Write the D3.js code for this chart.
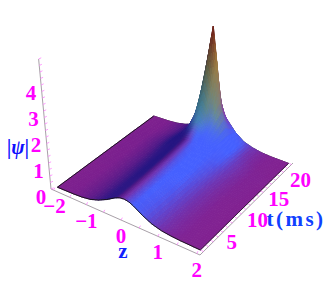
<!DOCTYPE html>
<html><head><meta charset="utf-8">
<script src="https://cdn.jsdelivr.net/npm/d3@7"></script>
<style>html,body{margin:0;padding:0;background:#fff;overflow:hidden}svg{display:block}</style>
</head><body><svg id="c" width="332" height="288"></svg>
<script>
const zValues=[-2,-1.5,-1.25,-1,-.75,-.5,-.25,-.125,0,.125,.25,.5,.75,1,1.25,1.5,2];
const tValues=[0,1,2,3,4,5,6,7,8,9,10,11,12,13,14,15,16,17,18,19,20];
const psi=[
[.003,.02,.04,.09,.20,.36,.56,.63,.65,.62,.54,.33,.17,.08,.04,.02,.003],
[.003,.020,.046,.099,.198,.363,.561,.634,.66,.634,.561,.363,.198,.099,.046,.020,.003],
[.003,.020,.047,.101,.201,.369,.570,.643,.67,.643,.570,.369,.201,.101,.047,.020,.003],
[.003,.020,.048,.102,.204,.374,.578,.653,.68,.653,.578,.374,.204,.102,.048,.020,.003],
[.003,.021,.048,.104,.207,.380,.587,.662,.69,.662,.587,.380,.207,.104,.048,.021,.003],
[.004,.021,.049,.105,.210,.385,.595,.672,.70,.672,.595,.385,.210,.105,.049,.021,.004],
[.004,.022,.050,.108,.216,.396,.612,.691,.72,.691,.612,.396,.216,.108,.050,.022,.004],
[.004,.022,.052,.111,.222,.407,.629,.710,.74,.710,.629,.407,.222,.111,.052,.022,.004],
[.004,.023,.053,.114,.228,.418,.646,.730,.76,.730,.646,.418,.228,.114,.053,.023,.004],
[.004,.023,.055,.117,.234,.429,.663,.749,.78,.749,.663,.429,.234,.117,.055,.023,.004],
[.004,.024,.057,.122,.243,.446,.689,.778,.81,.778,.689,.446,.243,.122,.057,.024,.004],
[.004,.025,.059,.126,.252,.462,.714,.806,.84,.806,.714,.462,.252,.126,.059,.025,.004],
[.004,.026,.062,.132,.264,.484,.748,.845,.88,.845,.748,.484,.264,.132,.062,.026,.004],
[.005,.028,.065,.140,.279,.512,.79,.893,.93,.893,.79,.512,.279,.140,.065,.028,.005],
[.005,.03,.07,.15,.30,.56,.93,1.09,1.15,1.09,.93,.56,.30,.15,.07,.03,.005],
[.005,.03,.07,.15,.30,.58,1.08,1.33,1.45,1.33,1.08,.58,.30,.15,.07,.03,.005],
[.004,.025,.06,.14,.29,.60,1.25,1.78,2.1,1.78,1.25,.60,.29,.14,.06,.025,.004],
[.003,.02,.05,.12,.26,.62,1.55,2.6,3.4,2.6,1.55,.62,.26,.12,.05,.02,.003],
[.003,.02,.05,.11,.24,.62,1.8,3.5,4.9,3.5,1.8,.62,.24,.11,.05,.02,.003],
[.003,.02,.05,.11,.24,.56,1.25,2.0,2.6,2.0,1.25,.56,.24,.11,.05,.02,.003],
[.003,.02,.05,.12,.24,.5,.9,1.1,1.2,1.1,.9,.5,.24,.12,.05,.02,.003]];
const zTickLabels=[-2,-1,0,1,2];
const tTickLabels=[5,10,15,20];
const hTickLabels=[0,1,2,3,4];

const zS=d3.scaleLinear([-2.08,2.08],[0,1]);
const tS=d3.scaleLinear([-.7,20.4],[0,1]);
const hS=d3.scaleLinear([0,5],[0,130]);
const P=[[51,189],[200,255],[293,163],[153,114]];
const dx1=P[1][0]-P[2][0],dx2=P[3][0]-P[2][0],sx=P[0][0]-P[1][0]+P[2][0]-P[3][0];
const dy1=P[1][1]-P[2][1],dy2=P[3][1]-P[2][1],sy=P[0][1]-P[1][1]+P[2][1]-P[3][1];
const den=dx1*dy2-dx2*dy1,G=(sx*dy2-dx2*sy)/den,H=(dx1*sy-sx*dy1)/den;
const A=P[1][0]-P[0][0]+G*P[1][0],B=P[3][0]-P[0][0]+H*P[3][0],C=P[0][0];
const D=P[1][1]-P[0][1]+G*P[1][1],E=P[3][1]-P[0][1]+H*P[3][1],F=P[0][1];
function proj(z,t,h){
  const u=zS(z),v=tS(t),w=G*u+H*v+1;
  let x=(A*u+B*v+C)/w,y=(D*u+E*v+F)/w;
  const px=hS(h)/w;
  return [x+px*(x-170)*.0008,y-px];
}
const svg=d3.select('#c');
const purple=d3.rgb('#82208f'),navy=d3.rgb('#261682'),blue=d3.rgb('#4560ff');
const spikeCol=d3.scaleLinear([1,1.5,2.7,3.6,4.3,4.9],['#4a88f0','#3f8aa8','#48686c','#66562c','#742818','#701414']).clamp(true).interpolate(d3.interpolateRgb);
const cl=d3.scaleLinear([0,1],[0,1]).clamp(true);
function vertexColor(j,i){
  const h=psi[j][i];
  const i0=Math.max(i-1,0),i1=Math.min(i+1,zValues.length-1);
  const j0=Math.max(j-1,0),j1=Math.min(j+1,tValues.length-1);
  const hz=(psi[j][i1]-psi[j][i0])/(zValues[i1]-zValues[i0]);
  const ht=(psi[j1][i]-psi[j0][i])/(tValues[j1]-tValues[j0]);
  let c=d3.interpolateRgb(purple,navy)(cl(hz*1.25));
  c=d3.interpolateRgb(c,blue)(Math.pow(cl(-hz*.95+.5*h),1.25));
  const s=cl((h-1)/.5);
  if(s>0){
    let k=d3.rgb(spikeCol(h));
    k=d3.interpolateRgb(k,'#102040')(cl(hz/12)*.5);
    k=d3.interpolateRgb(k,'#e0a040')(cl(-hz/10)*.5);
    c=d3.interpolateRgb(c,k)(s);
  }
  if(ht<-.15) c=d3.interpolateRgb(c,'#a02090')(cl(-ht/.6)*.85*(1-cl((h-1.5)/1)));
  return d3.rgb(c);
}
const cols=psi.map((r,j)=>r.map((_,i)=>vertexColor(j,i)));
const line=d3.line();
svg.append('path').attr('d',line(zValues.map((z,i)=>proj(z,20,psi[20][i])))).attr('fill','none').attr('stroke','#111').attr('stroke-width',.9);
const N=3,g=svg.append('g');
const mix=(a,b,f)=>a+(b-a)*f;
for(let j=tValues.length-2;j>=0;j--){
  for(let i=0;i<zValues.length-1;i++){
    const sub=(i>=4&&i<=12&&j>=9)?4:N;
    const at=(a,b)=>{
      const z=mix(zValues[i],zValues[i+1],a),t=mix(tValues[j],tValues[j+1],b);
      const h=mix(mix(psi[j][i],psi[j][i+1],a),mix(psi[j+1][i],psi[j+1][i+1],a),b);
      return proj(z,t,h);
    };
    for(let q=sub-1;q>=0;q--)for(let p=0;p<sub;p++){
      const a=(p+.5)/sub,b=(q+.5)/sub;
      const c0=cols[j][i],c1=cols[j][i+1],c2=cols[j+1][i],c3=cols[j+1][i+1];
      const f=k=>mix(mix(c0[k],c1[k],a),mix(c2[k],c3[k],a),b);
      const col=`rgb(${Math.round(f('r'))},${Math.round(f('g'))},${Math.round(f('b'))})`;
      const pts=[at(p/sub,q/sub),at((p+1)/sub,q/sub),at((p+1)/sub,(q+1)/sub),at(p/sub,(q+1)/sub)];
      g.append('path').attr('d',line(pts)+'Z').attr('fill',col).attr('stroke',col).attr('stroke-width',.9);
    }
  }
}
const edge=(pts,w)=>svg.append('path').attr('d',line(pts)).attr('fill','none').attr('stroke','#111').attr('stroke-width',w);
edge(zValues.map((z,i)=>proj(z,0,psi[0][i])),.9);
edge(tValues.map((t,j)=>proj(-2,t,psi[j][0])),.9);
edge(tValues.map((t,j)=>proj(2,t,psi[j][16])),.7);

const axisCol='#a8a0a8',pink='#ff00ff';
const ax=svg.append('g');
const zBase=-2.08,tBase=-.7,tEnd=20.4,zEnd=2.08;
const drawLine=(a,b,col,w)=>ax.append('line').attr('x1',a[0]).attr('y1',a[1]).attr('x2',b[0]).attr('y2',b[1]).attr('stroke',col).attr('stroke-width',w);
drawLine(proj(zBase,tBase,0),proj(zEnd,tBase,0),axisCol,1);
drawLine(proj(zEnd,tBase,0),proj(zEnd,tEnd,0),axisCol,1);
drawLine(proj(zBase,tBase,0),proj(zBase,tBase,5),axisCol,1);
d3.range(-2,2.01,.5).forEach(z=>{const a=proj(z,tBase,0);drawLine(a,[a[0]+1.2,a[1]-2.4],'#ff80ff',.8);});
d3.range(0,20.01,1).forEach(t=>{const a=proj(zEnd,t,0);drawLine(a,[a[0]-2.2,a[1]-1],'#ff80ff',.8);});
d3.range(0,5.01,.25).forEach(h=>{const a=proj(zBase,tBase,h);drawLine(a,[a[0]+2.6,a[1]-1.2],'#ff80ff',.8);});
const txt=(x,y,s,o={})=>svg.append('text').attr('x',x).attr('y',y).attr('text-anchor','middle')
  .attr('font-family','"Liberation Serif",serif').attr('font-weight','bold').attr('font-size',o.size||21)
  .attr('font-style',o.italic?'italic':null).attr('letter-spacing',o.ls||null).attr('fill',o.fill||pink).text(s);
zTickLabels.forEach(z=>{const a=proj(z,tBase,0);txt(a[0]+(z==-2?1:0),a[1]+23,(z<0?'\u2212':'')+Math.abs(z));});
tTickLabels.forEach(t=>{const a=proj(zEnd,t,0);txt(a[0]+(t==20?9:t==5?4:7),a[1]+22,t);});
hTickLabels.forEach(h=>{const a=proj(zBase,tBase,h);txt(a[0]-10,a[1]+15,h);});
txt(123,258,'z',{fill:'#1020ff',size:21});
txt(296,226,'t(ms)',{fill:'#1040ff',size:21,ls:2.5});
txt(18,154,'|\u03C8|',{fill:'#1010ff',size:20,italic:true});
</script></body></html>
